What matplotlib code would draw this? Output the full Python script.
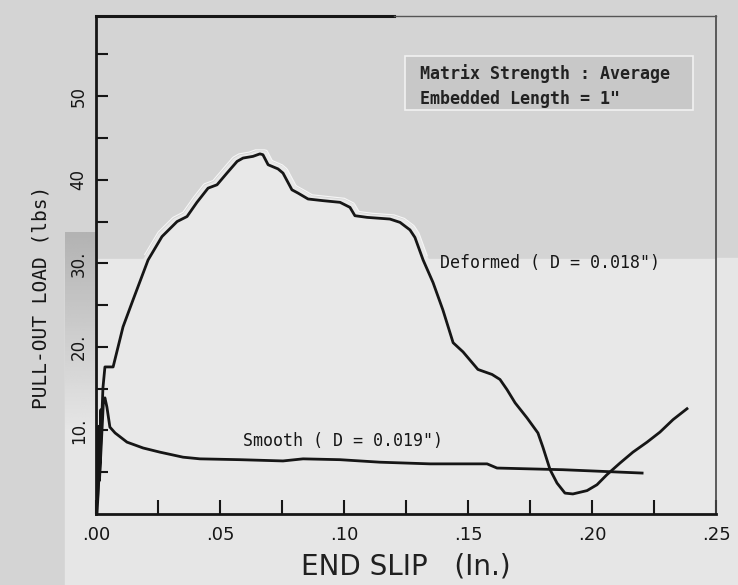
import numpy as np
import matplotlib
matplotlib.use("Agg")
import matplotlib.pyplot as plt
from matplotlib.patches import Rectangle

# values
deformed_x = [0.0004, 0.0020, 0.0028, 0.0036, 0.0069, 0.0109, 0.0149, 0.0210, 0.0266, 0.0327,
              0.0367, 0.0407, 0.0452, 0.0488, 0.0528, 0.0569, 0.0593, 0.0633, 0.0661, 0.0673,
              0.0694, 0.0734, 0.0754, 0.0790, 0.0815, 0.0855, 0.0915, 0.0984, 0.1024, 0.1044,
              0.1093, 0.1185, 0.1226, 0.1266, 0.1286, 0.1319, 0.1359, 0.1399, 0.1440, 0.1480,
              0.1540, 0.1597, 0.1629, 0.1657, 0.1690, 0.1738, 0.1782, 0.1802, 0.1831, 0.1859,
              0.1891, 0.1923, 0.1980, 0.2020, 0.2060, 0.2113, 0.2165, 0.2222, 0.2274, 0.2327,
              0.2383]
deformed_y = [0.0, 8.9, 15.1, 17.6, 17.6, 22.4, 25.6, 30.4, 33.2, 35.0,
              35.6, 37.3, 39.0, 39.4, 40.8, 42.2, 42.6, 42.8, 43.1, 43.0,
              41.8, 41.3, 40.8, 38.8, 38.4, 37.7, 37.5, 37.3, 36.7, 35.7,
              35.5, 35.3, 34.9, 34.0, 33.1, 30.4, 27.7, 24.4, 20.5, 19.4,
              17.3, 16.7, 16.1, 14.9, 13.3, 11.5, 9.7, 8.0, 5.3, 3.7,
              2.5, 2.4, 2.8, 3.5, 4.7, 6.1, 7.4, 8.6, 9.8, 11.3,
              12.6]

smooth_x = [0.0000, 0.0010, 0.0006, 0.0020, 0.0014, 0.0030, 0.0036, 0.0044, 0.0056, 0.0077,
            0.0125, 0.0190, 0.0258, 0.0351, 0.0419, 0.0581, 0.0754, 0.0835, 0.0984, 0.1145,
            0.1347, 0.1577, 0.1617, 0.1883, 0.2202]
smooth_y = [0.0, 10.5, 1.5, 12.5, 4.0, 13.5, 13.9, 12.8, 10.4, 9.7,
            8.6, 7.9, 7.4, 6.8, 6.6, 6.5, 6.35, 6.6, 6.5, 6.2,
            6.0, 6.0, 5.5, 5.3, 4.9]

xtick_vals = [0.0, 0.05, 0.10, 0.15, 0.20, 0.25]
xtick_labels = [".00", ".05", ".10", ".15", ".20", ".25"]
ytick_vals = [10, 20, 30, 40, 50]
ytick_labels = ["10.", "20.", "30.", "40", "50"]

dark = "#d4d4d4"
light = "#e8e8e8"
ink = "#161616"

fig = plt.figure(figsize=(7.38, 5.85), dpi=100, facecolor=dark)

# lighter paper below the scan line
fig.patches.append(Rectangle((65 / 738, 0), 1, (585 - 258) / 585, transform=fig.transFigure,
                             color="#e6e6e6", zorder=-1))
# grey smudge left of the axis
gax = fig.add_axes([65 / 738, (585 - 430) / 585, 31 / 738, (430 - 232) / 585])
gax.imshow(np.linspace(0.70, 0.90, 100).reshape(-1, 1), aspect="auto", cmap="gray", vmin=0, vmax=1)
gax.axis("off")

ax = fig.add_axes([96 / 738, (585 - 514) / 585, 620 / 738, 498 / 585])
ax.set_facecolor(light)
ax.set_xlim(0, 0.25)
ax.set_ylim(0, 59.6)

# darker upper part of the scan, hugging the deformed curve
xx = np.linspace(0, 0.25, 600)
f = np.interp(xx, deformed_x, deformed_y)
bound = np.array([f[max(0, i - 4):i + 5].max() for i in range(len(xx))]) + 0.4
bound = np.maximum(bound, 30.6)
ax.fill_between(xx, bound, 60, color=dark, lw=0, zorder=0)
ax.plot(xx, np.where(bound > 30.7, bound + 0.1, np.nan), color="#f6f6f6", lw=0.8, zorder=1)

ax.plot(deformed_x, deformed_y, color=ink, lw=2.0, zorder=3)
ax.plot(smooth_x, smooth_y, color=ink, lw=2.0, zorder=3)

mono = "DejaVu Sans Mono"
ax.text(0.1387, 30.06, 'Deformed ( D = 0.018")', family=mono, fontsize=12,
        ha="left", va="center", color=ink)
ax.text(0.0593, 8.74, 'Smooth ( D = 0.019")', family=mono, fontsize=12,
        ha="left", va="center", color=ink)

ax.add_patch(Rectangle((0.498, 0.811), 0.465, 0.109, transform=ax.transAxes,
                       facecolor="#c8c8c8", edgecolor="#f2f2f2", lw=1.2, zorder=2))
ax.text(0.5226, 0.8855, "Matrix Strength : Average", transform=ax.transAxes, family=mono,
        fontsize=12, fontweight="bold", ha="left", va="center", color="#222222", zorder=4)
ax.text(0.5226, 0.833, 'Embedded Length = 1"', transform=ax.transAxes, family=mono,
        fontsize=12, fontweight="bold", ha="left", va="center", color="#222222", zorder=4)

ax.set_xticks(xtick_vals)
ax.set_xticklabels(xtick_labels, fontsize=13)
ax.set_xticks(np.arange(0.025, 0.25, 0.05), minor=True)
ax.tick_params(axis="x", which="both", direction="in", length=10, width=1.5, pad=9, colors=ink)

ax.set_yticks(ytick_vals)
ax.set_yticklabels(ytick_labels, fontsize=12, rotation=90, va="center")
ax.set_yticks(np.arange(5, 60, 10), minor=True)
ax.tick_params(axis="y", which="both", direction="in", length=8.5, width=1.5, pad=6, colors=ink)

ax.set_xlabel("END SLIP   (In.)", fontsize=20, color="#202020", labelpad=6)
ax.set_ylabel("PULL-OUT LOAD (lbs)", family=mono, fontsize=14, color=ink)
ax.yaxis.set_label_coords(-0.074, 0.434)

for side in ["left", "bottom"]:
    ax.spines[side].set_linewidth(2.0)
    ax.spines[side].set_color(ink)
ax.spines["right"].set_linewidth(1.2)
ax.spines["right"].set_color("#444444")
ax.spines["top"].set_visible(False)
ax.plot([0, 0.48], [1, 1], transform=ax.transAxes, color=ink, lw=2.2, clip_on=False, zorder=5)
ax.plot([0.48, 1], [1, 1], transform=ax.transAxes, color="#555555", lw=1.0, clip_on=False, zorder=5)

fig.savefig("out.png", dpi=100, facecolor=fig.get_facecolor())
